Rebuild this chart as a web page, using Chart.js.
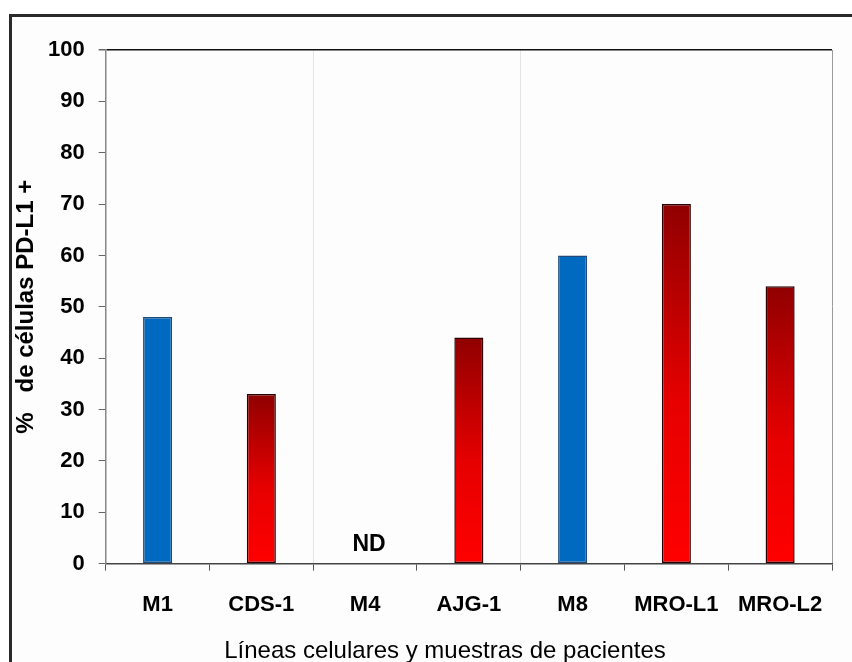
<!DOCTYPE html>
<html>
<head>
<meta charset="utf-8">
<script src="https://cdn.jsdelivr.net/npm/chart.js@4/dist/chart.umd.min.js"></script>
<style>
  html, body { margin: 0; padding: 0; background: #ffffff; }
  #wrap { position: relative; width: 852px; height: 662px; overflow: hidden; }
  #frame { position: absolute; left: 9px; top: 14px; width: 900px; height: 700px;
           border-left: 3px solid #2a2a2a; border-top: 3px solid #2a2a2a; background: #fdfdfd; }
  canvas { position: absolute; left: 0; top: 0; }
</style>
</head>
<body>
<div id="wrap">
  <div id="frame"></div>
  <canvas id="chart" width="852" height="662"></canvas>
</div>
<script>
// Samples: established cell lines (blue) and patient-derived samples (red)
const categories = ['M1', 'CDS-1', 'M4', 'AJG-1', 'M8', 'MRO-L1', 'MRO-L2'];
const pctPDL1 = [48, 33, null, 44, 60, 70, 54];
const sampleKind = ['line', 'patient', 'line', 'patient', 'line', 'patient', 'patient'];
const valueNotes = ['', '', 'ND', '', '', '', ''];
const yMin = 0, yMax = 100, yStep = 10;
const yTitle = '%   de células PD-L1 +';
const xTitle = 'Líneas celulares y muestras de pacientes';
const separatorAfter = [1, 3]; // faint dividers after these category indexes

const FONT = "'Liberation Sans', Arial, Helvetica, sans-serif";
Chart.defaults.font.family = FONT;
Chart.defaults.color = '#000';

function barFill(ctx) {
  if (ctx.type !== 'data') return '#0069c0';
  if (sampleKind[ctx.dataIndex] === 'line') return '#0069c0';
  const chart = ctx.chart, y = chart.scales.y;
  if (!y || ctx.raw == null) return '#e00000';
  const top = y.getPixelForValue(ctx.raw), bottom = y.getPixelForValue(0);
  const g = chart.ctx.createLinearGradient(0, top, 0, bottom);
  g.addColorStop(0, '#900000');
  g.addColorStop(0.55, '#e60000');
  g.addColorStop(1, '#ff0000');
  return g;
}

// Text notes above the baseline (e.g. ND) and the x-axis caption
const notesPlugin = {
  id: 'notes',
  afterDatasetsDraw(chart) {
    const { ctx, scales: { x, y } } = chart;
    ctx.save();
    ctx.fillStyle = '#000';
    ctx.textAlign = 'center';
    ctx.textBaseline = 'middle';
    ctx.font = 'bold 23px ' + FONT;
    valueNotes.forEach((t, i) => {
      if (!t) return;
      ctx.fillText(t, x.getPixelForValue(i) + 4, y.getPixelForValue(0) - 19);
    });
    ctx.font = '24px ' + FONT;
    ctx.fillText(xTitle, 445, 651);
    ctx.restore();
  }
};

new Chart(document.getElementById('chart'), {
  type: 'bar',
  data: {
    labels: categories,
    datasets: [{
      data: pctPDL1,
      backgroundColor: barFill,
      borderColor: (c) => sampleKind[c.dataIndex] === 'line' ? '#204a78' : '#2a0000',
      borderWidth: 1.5,
      borderSkipped: false,
      categoryPercentage: 1,
      barPercentage: 0.28
    }]
  },
  options: {
    responsive: false,
    animation: false,
    layout: { padding: { left: 5, top: 50, right: 20, bottom: 23 } },
    plugins: { legend: { display: false }, tooltip: { enabled: false } },
    scales: {
      x: {
        offset: true,
        grid: {
          offset: true,
          drawOnChartArea: true,
          color: (c) => {
            if (c.index === undefined) return '#9a9a9a';
            if (separatorAfter.includes(c.index - 1)) return '#e4e4e4';
            return 'rgba(0,0,0,0)';
          },
          tickColor: '#555',
          tickLength: 7,
          lineWidth: 1
        },
        border: { color: '#444', width: 1.5 },
        ticks: { font: { size: 22, weight: 'bold' }, color: '#000', padding: 21 }
      },
      y: {
        min: yMin,
        max: yMax,
        grid: {
          color: (c) => (c.tick && c.tick.value === yMax) ? '#111' : 'rgba(0,0,0,0)',
          lineWidth: (c) => (c.tick && c.tick.value === yMax) ? 1.5 : 1,
          tickColor: '#666',
          tickLength: 7
        },
        border: { color: '#888', width: 1.5 },
        ticks: { stepSize: yStep, font: { size: 22, weight: 'bold' }, color: '#000', padding: 14 },
        title: {
          display: true,
          text: yTitle,
          font: { size: 24, weight: 'bold', lineHeight: 1 },
          color: '#000',
          padding: { top: 9, bottom: -4 }
        }
      }
    }
  },
  plugins: [notesPlugin]
});
</script>
</body>
</html>
